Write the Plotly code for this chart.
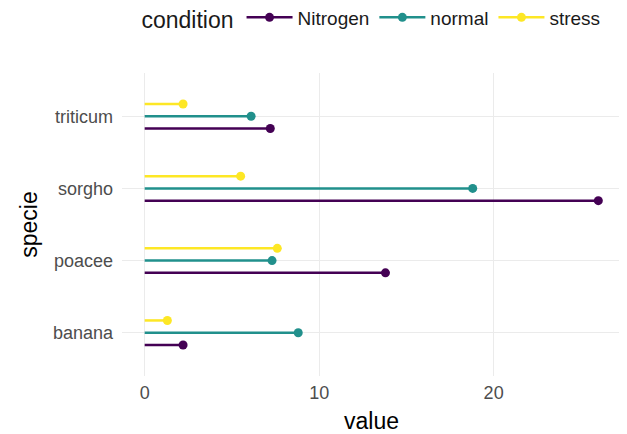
import plotly.graph_objects as go

species = ["banana", "poacee", "sorgho", "triticum"]
conditions = ["Nitrogen", "normal", "stress"]
nitrogen = [2.2, 13.8, 26.0, 7.2]
normal = [8.8, 7.3, 18.8, 6.1]
stress = [1.3, 7.6, 5.5, 2.2]
colors = {"Nitrogen": "#440154", "normal": "#21908C", "stress": "#FDE725"}
offsets = {"Nitrogen": -0.17, "normal": 0.0, "stress": 0.17}
values = {"Nitrogen": nitrogen, "normal": normal, "stress": stress}

fig = go.Figure()
for cond in conditions:
    xs, ys, mx, my = [], [], [], []
    for i, v in enumerate(values[cond]):
        yp = i + 1 + offsets[cond]
        xs += [0, v, None]
        ys += [yp, yp, None]
        mx += [v, None]
        my += [yp, None]
    fig.add_trace(go.Scatter(x=xs, y=ys, mode="lines", line=dict(color=colors[cond], width=2.5),
                             showlegend=False, legendgroup=cond, hoverinfo="skip"))
    fig.add_trace(go.Scatter(x=mx, y=my, mode="lines+markers", name=cond, legendgroup=cond,
                             line=dict(color=colors[cond], width=2.5),
                             marker=dict(color=colors[cond], size=9)))

fig.update_layout(
    width=619, height=426,
    margin=dict(l=114, r=6, t=65, b=58, autoexpand=False),
    plot_bgcolor="white", paper_bgcolor="white",
    font=dict(family="Liberation Sans, Arial, sans-serif", color="#000000"),
    legend=dict(orientation="h", x=0.035, xanchor="left", y=1.18, yanchor="middle",
                itemwidth=46,
                title=dict(text="condition", font=dict(size=23, color="#1a1a1a")),
                font=dict(size=19, color="#1a1a1a")),
    xaxis=dict(range=[-1.3, 27.3], tickvals=[0, 10, 20], ticktext=["0", "10", "20"],
               showgrid=True, gridcolor="#ebebeb", gridwidth=1, zeroline=False,
               tickfont=dict(size=18, color="#4d4d4d"), ticks="", automargin=False,
               ticklabelstandoff=4,
               title=dict(text="value", font=dict(size=23, color="#000"), standoff=10)),
    yaxis=dict(range=[0.4, 4.6], tickvals=[1, 2, 3, 4], ticktext=species,
               showgrid=True, gridcolor="#ebebeb", gridwidth=1, zeroline=False,
               tickfont=dict(size=18, color="#4d4d4d"), ticks="", automargin=False,
               ticklabelstandoff=8,
               title=dict(text="specie", font=dict(size=23, color="#000"), standoff=8)),
)

fig.write_html("out.html")
